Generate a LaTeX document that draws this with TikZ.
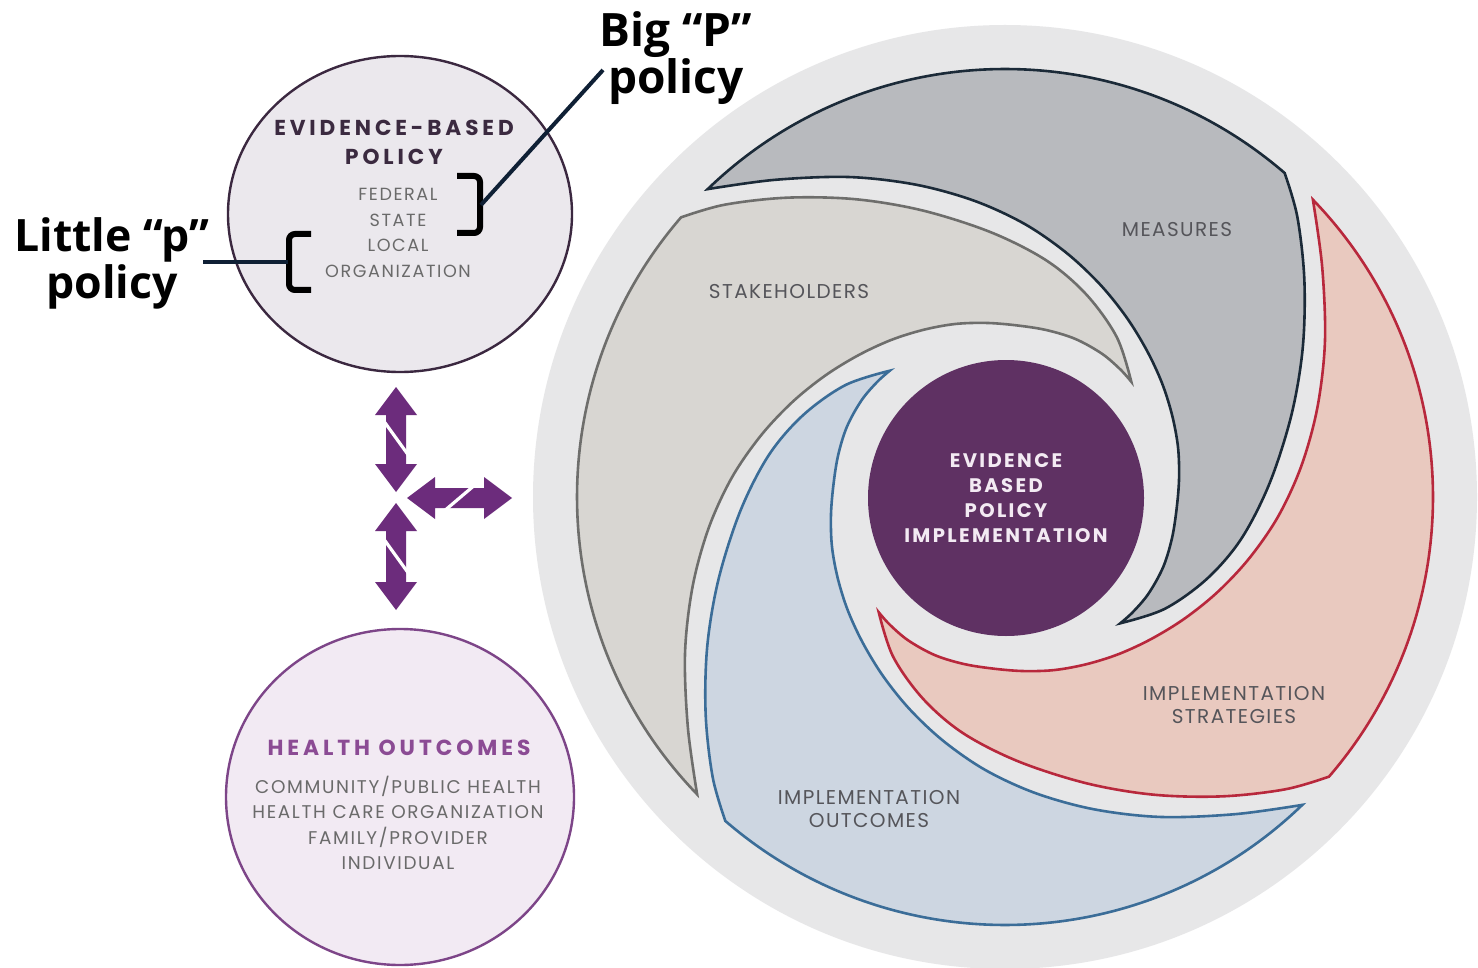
\documentclass[tikz,border=0pt]{standalone}
\usepackage{fontspec}
\usetikzlibrary{shapes.geometric}
\newfontfamily\labfont{Open Sans}
\newfontfamily\popTitle[LetterSpace=18]{Poppins}
\newfontfamily\popSub[LetterSpace=9]{Poppins}
\newfontfamily\popCore[LetterSpace=12]{Poppins}
\newfontfamily\popLab[LetterSpace=7]{Poppins}
\definecolor{ringgrey}{HTML}{E7E7E8}
\definecolor{measfill}{HTML}{B8BABE}
\definecolor{measdraw}{HTML}{1B2A38}
\definecolor{stratfill}{HTML}{E9C9BF}
\definecolor{stratdraw}{HTML}{B8283C}
\definecolor{outcfill}{HTML}{CDD6E1}
\definecolor{outcdraw}{HTML}{3B6D98}
\definecolor{stakefill}{HTML}{D8D6D2}
\definecolor{stakedraw}{HTML}{6E6E6C}
\definecolor{corepurple}{HTML}{5F3163}
\definecolor{coretext}{HTML}{F3EAF3}
\definecolor{topfill}{HTML}{EBE8ED}
\definecolor{topdraw}{HTML}{3B2840}
\definecolor{botfill}{HTML}{F2EAF3}
\definecolor{botdraw}{HTML}{7D4588}
\definecolor{toptitle}{HTML}{3B2A40}
\definecolor{bottitle}{HTML}{8B4B94}
\definecolor{subgrey}{HTML}{6A6A6A}
\definecolor{labgrey}{HTML}{55555A}
\definecolor{arrowpurple}{HTML}{6C2C7C}
\definecolor{leadernavy}{HTML}{0F2035}
% one swirl blade, in polar coordinates about the centre (screen angles, y downwards)
\newcommand\blade[3]{%
  \begin{scope}[shift={(1005,497)}, rotate=#1]
    \filldraw[fill=#2,draw=#3,line width=1.3pt,line join=miter]
      (-134:428) arc[start angle=-134, end angle=-49.2, radius=428]
      -- plot[smooth,tension=0.55] coordinates {(-49.2:428) (-43.8:405) (-36:370) (-26.6:333) (-16:298) (-3:265) (10:240) (22:218) (35:195) (47.6:171)}
      -- plot[smooth,tension=0.55] coordinates {(47.6:171) (42:172) (34:173) (24:173) (14:172) (4:172) (-6:175) (-16:180) (-26:186) (-36:194) (-46:204) (-56:217) (-66:233) (-76:252) (-86:274) (-96:298) (-106:325) (-116:356) (-126:392) (-134:428)}
      -- cycle;
  \end{scope}}
\begin{document}
\begin{tikzpicture}[x=0.5pt,y=-0.5pt,
  lab/.style={font=\popLab\fontsize{10}{11.5}\selectfont, text=labgrey, align=center},
  biglab/.style={font=\labfont\bfseries\fontsize{23}{23.5}\selectfont, text=black, align=center},
  bracket/.style={draw=black, line width=3pt, rounded corners=3pt},
  leader/.style={draw=leadernavy, line width=2pt},
  arrowshape/.style={fill=arrowpurple},
  slash/.style={draw=white, line width=1.6pt}]
\useasboundingbox (0,0) rectangle (1478,968);
\fill[white] (0,0) rectangle (1478,968);

% big background ring
\node[circle, fill=ringgrey, minimum size=472pt, inner sep=0] (ring) at (1005,497) {};

% four blades
\blade{0}{measfill}{measdraw}
\blade{-90}{stratfill}{stratdraw}
\blade{-180}{outcfill}{outcdraw}
\blade{-270}{stakefill}{stakedraw}

% centre
\node[circle, fill=corepurple, minimum size=138pt, inner sep=0, text=coretext,
      font=\popCore\bfseries\fontsize{9.8}{12.5}\selectfont, align=center] (core) at (1006,498)
  {EVIDENCE\\BASED\\POLICY\\IMPLEMENTATION};

% blade labels
\node[lab] (meas) at (1177,230) {MEASURES};
\node[lab] (stake) at (789,292) {STAKEHOLDERS};
\node[lab] (strat) at (1234,705) {IMPLEMENTATION\\STRATEGIES};
\node[lab] (outc) at (869,809) {IMPLEMENTATION\\OUTCOMES};

% left circles
\node[ellipse, fill=topfill, draw=topdraw, line width=1.2pt, minimum width=172pt, minimum height=158pt, inner sep=0] (policy) at (400,214) {};
\node[ellipse, fill=botfill, draw=botdraw, line width=1.2pt, minimum width=174pt, minimum height=168pt, inner sep=0] (health) at (400,797) {};

\node[font=\popTitle\bfseries\fontsize{10.8}{14.5}\selectfont, text=toptitle, align=center] (ebptitle) at (394,142) {EVIDENCE-BASED\\POLICY};
\node[font=\popSub\fontsize{8.8}{12.7}\selectfont, text=subgrey, align=center] (levels) at (398,233) {FEDERAL\\STATE\\LOCAL\\ORGANIZATION};
\node[font=\popTitle\bfseries\fontsize{10.9}{12}\selectfont, text=bottitle, align=center] (hotitle) at (399,748) {HEALTH OUTCOMES};
\node[font=\popSub\fontsize{9.2}{12.7}\selectfont, text=subgrey, align=center] (holevels) at (398,823) {COMMUNITY/PUBLIC HEALTH\\HEALTH CARE ORGANIZATION\\FAMILY/PROVIDER\\INDIVIDUAL};

% big / little p labels
\node[biglab] (bigP) at (676,58) {Big “P”\\policy};
\node[biglab, font=\labfont\bfseries\fontsize{22.3}{23.5}\selectfont] (littlep) at (112,263) {Little “p”\\policy};

\draw[bracket] (457,176) -- (480,176) -- (480,233) -- (457,233);
\coordinate (bigPjoin) at (481,205);
\coordinate (bigPend) at (603,70);
\draw[leader] (bigPjoin) -- (bigPend);

\draw[bracket] (311,234) -- (289,234) -- (289,290) -- (311,290);
\coordinate (lpjoin) at (288,262);
\coordinate (lpend) at (203,262);
\draw[leader] (lpend) -- (lpjoin);

% arrows
\fill[arrowshape] (396,387) -- (417,415) -- (406,415) -- (406,464) -- (417,464) -- (396,492) -- (375,464) -- (386,464) -- (386,415) -- (375,415) -- cycle;
\draw[slash] (383,420) -- (409,456);
\fill[arrowshape] (396,503) -- (417,531) -- (406,531) -- (406,582) -- (417,582) -- (396,610) -- (375,582) -- (386,582) -- (386,531) -- (375,531) -- cycle;
\draw[slash] (383,538) -- (409,574);
\fill[arrowshape] (407,498) -- (435,477) -- (435,488) -- (484,488) -- (484,477) -- (512,498) -- (484,519) -- (484,508) -- (435,508) -- (435,519) -- cycle;
\draw[slash] (443,512) -- (476,484);
\end{tikzpicture}
\end{document}
